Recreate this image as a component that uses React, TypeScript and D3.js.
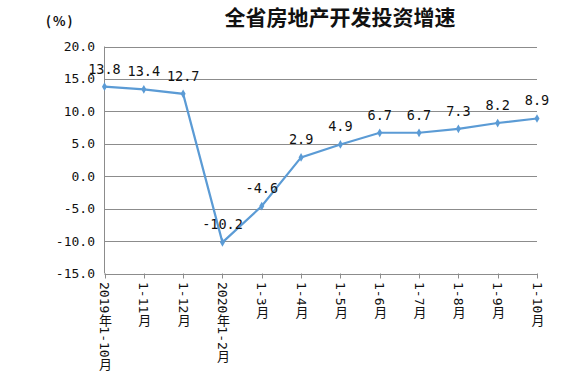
import React from "react";
import * as d3 from "d3";

const categories = ["2019年1-10月", "1-11月", "1-12月", "2020年1-2月", "1-3月", "1-4月", "1-5月", "1-6月", "1-7月", "1-8月", "1-9月", "1-10月"];
const values = [13.8, 13.4, 12.7, -10.2, -4.6, 2.9, 4.9, 6.7, 6.7, 7.3, 8.2, 8.9];
const yTicks = [20, 15, 10, 5, 0, -5, -10, -15];
const title = "全省房地产开发投资增速";
const unit = "(%)";

const W = 585;
const H = 377;
const monoFont = '"DejaVu Sans Mono", "Noto Sans CJK SC", monospace';

export default function App() {
  const x = d3.scalePoint<string>().domain(categories).range([104.5, 537]);
  const y = d3.scaleLinear().domain([-15, 20]).range([273.5, 46.5]);
  const line = d3
    .line<number>()
    .x((_, i) => x(categories[i]) as number)
    .y((d) => y(d));
  const diamond = d3.symbol().type(d3.symbolDiamond).size(22)() as string;
  const lineColor = "#5B9BD5";
  const gridColor = "#8C8C8C";

  return (
    <svg width={W} height={H} style={{ position: "absolute", left: 0, top: 0, background: "#fff" }}>
      <rect width={W} height={H} fill="#fff" />
      <text x={340} y={25} textAnchor="middle" fontFamily='"Noto Sans CJK SC", sans-serif' fontWeight={700} fontSize={21} fill="#111">
        {title}
      </text>
      <text x={46} y={26} fontFamily='"Noto Sans CJK SC", sans-serif' fontWeight={700} fontSize={13} fill="#111" letterSpacing={2}>
        {unit}
      </text>
      {yTicks.map((t) => (
        <g key={t}>
          {t !== -15 && (
            <line x1={104.5} x2={537} y1={Math.round(y(t)) + 0.5} y2={Math.round(y(t)) + 0.5} stroke={gridColor} strokeWidth={1} />
          )}
          <text x={95} y={y(t)} dy="0.35em" textAnchor="end" fontFamily={monoFont} fontSize={13} fill="#111">
            {t.toFixed(1)}
          </text>
        </g>
      ))}
      <line x1={104.5} x2={104.5} y1={y(20)} y2={y(-15)} stroke={gridColor} strokeWidth={1} />
      <line x1={104.5} x2={537} y1={Math.round(y(-15)) + 0.5} y2={Math.round(y(-15)) + 0.5} stroke={gridColor} strokeWidth={1} />
      {categories.map((c) => (
        <g key={c}>
          <line x1={Math.round(x(c) as number) + 0.5} x2={Math.round(x(c) as number) + 0.5} y1={y(-15)} y2={y(-15) + 5} stroke={gridColor} strokeWidth={1} />
          <text
            x={x(c) as number}
            y={282}
            fontFamily={monoFont}
            fontSize={13}
            fill="#111"
            style={{ writingMode: "vertical-rl" } as React.CSSProperties}
          >
            {c}
          </text>
        </g>
      ))}
      <path d={line(values) as string} fill="none" stroke={lineColor} strokeWidth={2.2} />
      {values.map((v, i) => (
        <g key={i}>
          <path d={diamond} transform={`translate(${x(categories[i])},${y(v)})`} fill={lineColor} />
          <text
            x={x(categories[i]) as number}
            y={y(v) - 13}
            textAnchor="middle"
            fontFamily={monoFont}
            fontSize={13.5}
            fill="#111"
          >
            {v.toFixed(1)}
          </text>
        </g>
      ))}
    </svg>
  );
}
